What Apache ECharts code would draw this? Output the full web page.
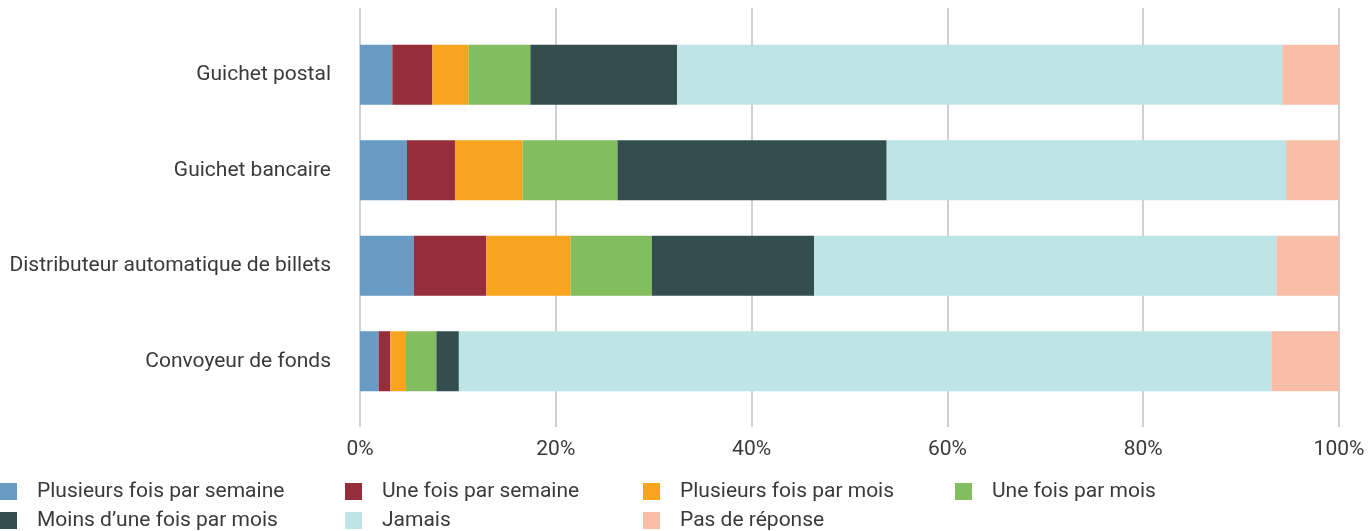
<!DOCTYPE html>
<html>
<head>
<meta charset="utf-8">
<script src="https://cdn.jsdelivr.net/npm/echarts@6/dist/echarts.min.js"></script>
<style>
  html, body { margin: 0; padding: 0; background: #fff; }
  #chart { width: 1369px; height: 531px; }
</style>
</head>
<body>
<div id="chart"></div>
<script>
// catégories (de haut en bas)
const categories = ['Guichet postal', 'Guichet bancaire', 'Distributeur automatique de billets', 'Convoyeur de fonds'];

// valeurs en % par fréquence
const plusieursSemaine = [3.3, 4.8, 5.5, 1.9];
const uneSemaine = [4.1, 4.9, 7.4, 1.2];
const plusieursMois = [3.7, 6.9, 8.6, 1.6];
const uneMois = [6.3, 9.7, 8.3, 3.1];
const moinsMois = [15.0, 27.5, 16.6, 2.3];
const jamais = [61.8, 40.8, 47.2, 83.0];
const pasReponse = [5.8, 5.4, 6.4, 6.9];

const seriesNames = ['Plusieurs fois par semaine', 'Une fois par semaine', 'Plusieurs fois par mois', 'Une fois par mois',
  'Moins d\u2019une fois par mois', 'Jamais', 'Pas de réponse'];
const seriesData = [plusieursSemaine, uneSemaine, plusieursMois, uneMois, moinsMois, jamais, pasReponse];
const colors = ['#6a9bc2', '#952d3a', '#f7a51f', '#82bd5f', '#344e50', '#bee4e6', '#f8bea8'];

const ticks = [0, 20, 40, 60, 80, 100];

const font = 'Roboto, "Liberation Sans", sans-serif';

const chart = echarts.init(document.getElementById('chart'));

// une légende par colonne pour garder l'alignement
const legendCols = [[0, 4], [1, 5], [2, 6], [3]];
const legendX = [0, 345, 643, 955];
const legends = legendCols.map((idx, i) => ({
  orient: 'vertical',
  left: legendX[i],
  top: 481,
  padding: 0,
  itemWidth: 17,
  itemHeight: 17,
  itemGap: 8,
  icon: 'rect',
  selectedMode: false,
  data: idx.map(k => seriesNames[k]),
  textStyle: { fontFamily: font, fontSize: 21, color: '#3a3a3a', padding: [0, 0, 0, 15] }
}));

const option = {
  animation: false,
  color: colors,
  legend: legends,
  grid: [
    { left: 360, right: 30, top: 27, bottom: 122 },
    { left: 360, right: 30, top: 8, bottom: 104 }
  ],
  xAxis: [
    { gridIndex: 0, type: 'value', min: 0, max: 100, show: false },
    {
      gridIndex: 1, type: 'value', min: ticks[0], max: ticks[ticks.length - 1], interval: 20,
      axisLine: { show: false },
      axisTick: { show: false },
      splitLine: { show: true, lineStyle: { color: '#d0d0d4', width: 2 } },
      axisLabel: { formatter: '{value}%', fontFamily: font, fontSize: 21, color: '#3a3a3a', margin: 12 }
    }
  ],
  yAxis: [
    {
      gridIndex: 0, type: 'category', data: categories, inverse: true,
      axisLine: { show: false },
      axisTick: { show: false },
      axisLabel: { fontFamily: font, fontSize: 21, color: '#3a3a3a', margin: 29 }
    },
    { gridIndex: 1, type: 'value', show: false, min: 0, max: 1 }
  ],
  series: seriesData.map((d, i) => ({
    name: seriesNames[i],
    type: 'bar',
    stack: 'total',
    xAxisIndex: 0,
    yAxisIndex: 0,
    barWidth: 60,
    data: d,
    itemStyle: { color: colors[i] }
  }))
};

chart.setOption(option);
</script>
</body>
</html>
